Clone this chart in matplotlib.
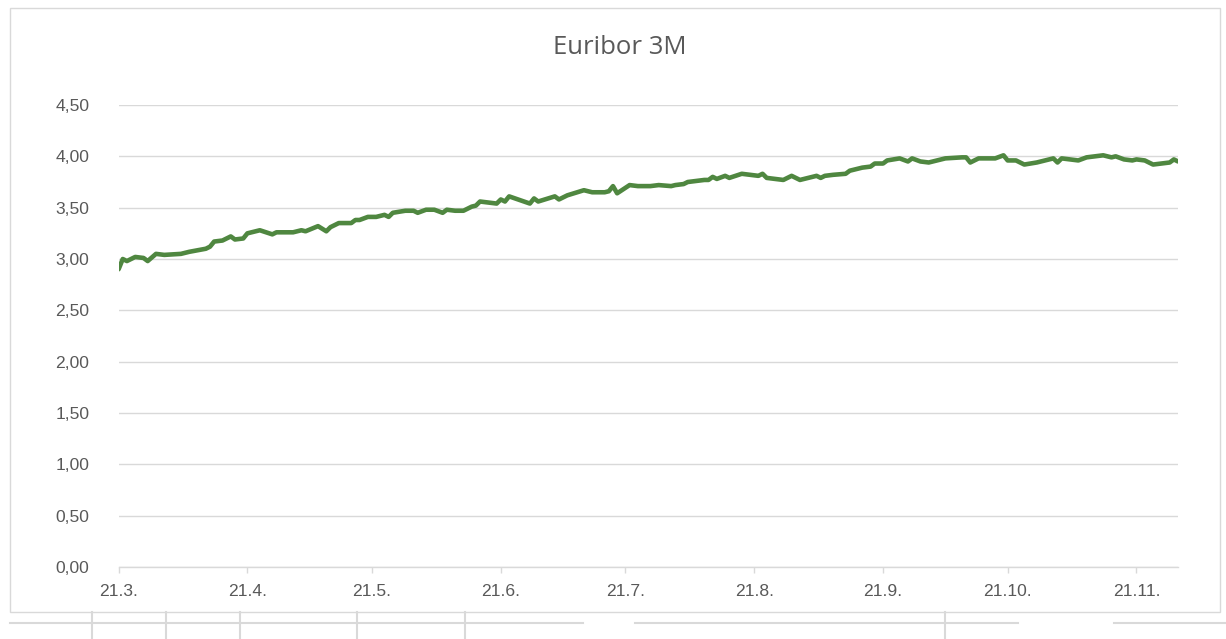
import matplotlib
matplotlib.use("Agg")
import matplotlib.pyplot as plt
import matplotlib.dates as mdates
from matplotlib.lines import Line2D
from matplotlib.patches import Rectangle
import pandas as pd

# --- DATA ---
title = "Euribor 3M"
start_date = "2023-03-21"
end_date = "2023-12-01"

# days after start_date
day_offsets = [
    0, 1, 2, 4, 6, 7, 9, 11, 15, 17, 21, 22, 23, 25, 27, 28, 30, 31, 34, 37,
    38, 42, 43, 44, 45, 48, 50, 51, 53, 56, 57, 58, 60, 62, 64, 65, 66, 69, 71, 72,
    74, 76, 78, 79, 81, 83, 85, 86, 87, 91, 92, 93, 94, 99, 100, 101, 105, 106, 108, 112,
    114, 117, 118, 119, 120, 123, 125, 128, 130, 133, 134, 136, 137, 141, 142, 143, 144, 146, 147, 150,
    152, 154, 155, 156, 160, 162, 164, 167, 168, 169, 170, 172, 175, 176, 179, 181, 182, 184, 185, 188,
    190, 191, 193, 195, 197, 199, 203, 204, 205, 207, 211, 213, 214, 216, 218, 221, 224, 225, 226, 227,
    231, 233, 237, 239, 240, 242, 244, 245, 247, 249, 251, 253, 254, 255,
]
rates = [
    2.90, 3.00, 2.98, 3.02, 3.01, 2.98, 3.05, 3.04, 3.05, 3.07, 3.10, 3.12, 3.17, 3.18, 3.22, 3.19, 3.20, 3.25, 3.28, 3.24,
    3.26, 3.26, 3.27, 3.28, 3.27, 3.32, 3.27, 3.31, 3.35, 3.35, 3.38, 3.38, 3.41, 3.41, 3.43, 3.41, 3.45, 3.47, 3.47, 3.45,
    3.48, 3.48, 3.45, 3.48, 3.47, 3.47, 3.51, 3.52, 3.56, 3.54, 3.58, 3.56, 3.61, 3.54, 3.59, 3.56, 3.61, 3.58, 3.62, 3.67,
    3.65, 3.65, 3.66, 3.71, 3.64, 3.72, 3.71, 3.71, 3.72, 3.71, 3.72, 3.73, 3.75, 3.77, 3.77, 3.80, 3.78, 3.81, 3.79, 3.83,
    3.82, 3.81, 3.83, 3.79, 3.77, 3.81, 3.77, 3.80, 3.81, 3.79, 3.81, 3.82, 3.83, 3.86, 3.89, 3.90, 3.93, 3.93, 3.96, 3.98,
    3.95, 3.98, 3.95, 3.94, 3.96, 3.98, 3.99, 3.99, 3.94, 3.98, 3.98, 4.01, 3.96, 3.96, 3.92, 3.94, 3.97, 3.98, 3.94, 3.98,
    3.96, 3.99, 4.01, 3.99, 4.00, 3.97, 3.96, 3.97, 3.96, 3.92, 3.93, 3.94, 3.97, 3.95,
]
y_ticks = [0.0, 0.5, 1.0, 1.5, 2.0, 2.5, 3.0, 3.5, 4.0, 4.5]

assert len(day_offsets) == len(rates)
dates = pd.Timestamp(start_date) + pd.to_timedelta(day_offsets, unit="D")

# --- PLOT ---
grid_col = "#d9d9d9"
text_col = "#595959"

fig = plt.figure(figsize=(12.26, 6.39), dpi=100)
ax = fig.add_axes([118.6 / 1226, 1 - 567 / 639, (1178 - 118.6) / 1226, (567 - 105) / 639])

ax.plot(dates, rates, color="#4f8740", linewidth=3.3, solid_joinstyle="round", solid_capstyle="round")

ax.set_xlim(pd.Timestamp(start_date), pd.Timestamp(end_date))
ax.set_ylim(0, 4.5)
ax.set_yticks(y_ticks)
ax.set_yticklabels([f"{v:.2f}".replace(".", ",") for v in y_ticks])

ax.xaxis.set_major_locator(mdates.MonthLocator(bymonthday=21))
ax.xaxis.set_major_formatter(plt.FuncFormatter(
    lambda v, pos: f"{mdates.num2date(v).day}.{mdates.num2date(v).month}."))

for s in ["top", "right", "left"]:
    ax.spines[s].set_visible(False)
ax.spines["bottom"].set_color(grid_col)
ax.spines["bottom"].set_linewidth(1.0)

ax.grid(axis="y", color=grid_col, linewidth=1.0)
ax.set_axisbelow(True)
ax.tick_params(axis="y", length=0, pad=21, labelsize=12.6, labelcolor=text_col)
ax.tick_params(axis="x", length=4, width=1, color=grid_col, direction="out", pad=8,
               labelsize=12.6, labelcolor=text_col)
for lbl in ax.get_xticklabels() + ax.get_yticklabels():
    lbl.set_fontfamily("Liberation Sans")

fig.text(620 / 1226, 1 - 48 / 639, title, ha="center", va="center",
         fontsize=18.5, color=text_col, family="Open Sans")

# chart border and the spreadsheet cells peeking out below it
fig.add_artist(Rectangle((10 / 1226, 1 - 612 / 639), 1210 / 1226, 604 / 639,
                         transform=fig.transFigure, fill=False, edgecolor=grid_col, linewidth=1.0))
for x0, x1 in [(10, 583), (635, 1018), (1114, 1226)]:
    fig.add_artist(Line2D([x0 / 1226, x1 / 1226], [1 - 623 / 639] * 2, color=grid_col, linewidth=1.5))
for xv in [92, 166, 240, 357, 465, 945]:
    fig.add_artist(Line2D([xv / 1226] * 2, [1 - 612 / 639, 0], color=grid_col, linewidth=1.5))

fig.savefig("out.png", dpi=100)
